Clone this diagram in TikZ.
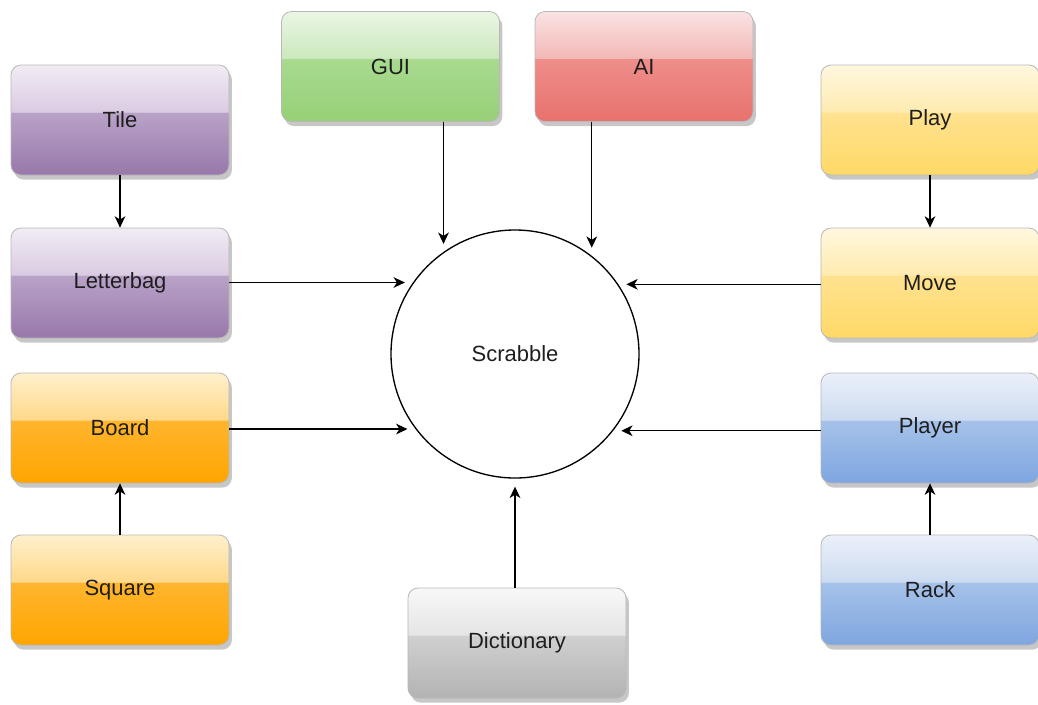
\documentclass[tikz,border=0pt]{standalone}
\usepackage{fontspec}
\setmainfont{Liberation Sans}
\usetikzlibrary{arrows.meta,shadows}
% colour sets: top, gloss edge, lower top, bottom
\definecolor{puA}{HTML}{F1ECF4}\definecolor{puB}{HTML}{DACBE2}\definecolor{puC}{HTML}{B9A2C8}\definecolor{puD}{HTML}{9878AA}
\definecolor{grA}{HTML}{EBF6E5}\definecolor{grB}{HTML}{CBE8BC}\definecolor{grC}{HTML}{A8DA8F}\definecolor{grD}{HTML}{97D077}
\definecolor{reA}{HTML}{FAE3E3}\definecolor{reB}{HTML}{F2B8B6}\definecolor{reC}{HTML}{EE8E8A}\definecolor{reD}{HTML}{E8716D}
\definecolor{yeA}{HTML}{FFF7DF}\definecolor{yeB}{HTML}{FFEBB0}\definecolor{yeC}{HTML}{FFE290}\definecolor{yeD}{HTML}{FFD966}
\definecolor{orA}{HTML}{FFF0CC}\definecolor{orB}{HTML}{FFD88A}\definecolor{orC}{HTML}{FFB52E}\definecolor{orD}{HTML}{FFA500}
\definecolor{blA}{HTML}{EBF0F9}\definecolor{blB}{HTML}{CCDBF1}\definecolor{blC}{HTML}{A6C2E9}\definecolor{blD}{HTML}{7EA6E0}
\definecolor{gyA}{HTML}{F8F8F8}\definecolor{gyB}{HTML}{E5E5E5}\definecolor{gyC}{HTML}{D0D0D0}\definecolor{gyD}{HTML}{B3B3B3}
\definecolor{edge}{HTML}{B8B8B8}
\definecolor{txt}{HTML}{1E1E1E}
% glossy vertical shadings: 25bp = bottom of shape, 75bp = top of shape
\newcommand\makegloss[1]{%
  \pgfdeclareverticalshading{gloss#1}{100bp}{%
    color(0bp)=(#1D); color(25bp)=(#1D); color(53.5bp)=(#1C);
    color(53.7bp)=(#1B); color(75bp)=(#1A); color(100bp)=(#1A)}}
\makegloss{pu}\makegloss{gr}\makegloss{re}\makegloss{ye}\makegloss{or}\makegloss{bl}\makegloss{gy}
\tikzset{
  glossbox/.style={
    rounded corners=7.5pt, minimum width=163.5pt, minimum height=82.5pt,
    draw=edge, line width=0.6pt, inner sep=0pt,
    shading=gloss#1,
    font=\fontsize{16.5}{18}\selectfont, text=txt,
    drop shadow={shadow xshift=2.2pt, shadow yshift=-3.5pt, fill=black!22, opacity=1}
  },
  purplebox/.style={glossbox=pu},
  greenbox/.style={glossbox=gr},
  redbox/.style={glossbox=re},
  yellowbox/.style={glossbox=ye},
  orangebox/.style={glossbox=or},
  bluebox/.style={glossbox=bl},
  graybox/.style={glossbox=gy},
  hub/.style={circle, draw=black, line width=1pt, fill=white, minimum size=186pt, inner sep=0pt,
    font=\fontsize{16.5}{18}\selectfont, text=txt},
  arr/.style={-{Stealth[length=8.5pt,width=8pt,inset=2.5pt]}, line width=1pt, draw=black},
  arrc/.style={arr, shorten >=6pt}
}
\begin{document}
\begin{tikzpicture}[x=0.75pt,y=0.75pt]
\useasboundingbox (0,-704) rectangle (1038,0);
\node[hub] (scr) at (515,-354) {Scrabble};
\node[purplebox] (tile) at (120,-120) {Tile};
\node[purplebox] (letterbag) at (120,-283) {Letterbag};
\node[orangebox] (board) at (120,-428) {Board};
\node[orangebox] (square) at (120,-590) {Square};
\node[greenbox] (gui) at (390.5,-66.5) {GUI};
\node[redbox] (ai) at (644,-66.5) {AI};
\node[yellowbox] (play) at (930,-120) {Play};
\node[yellowbox] (move) at (930,-283) {Move};
\node[bluebox] (player) at (930,-428) {Player};
\node[bluebox] (rack) at (930,-590) {Rack};
\node[graybox] (dict) at (517,-643) {Dictionary};
% connectors
\draw[arr] (tile) -- (letterbag);
\draw[arr] (square) -- (board);
\draw[arr] (play) -- (move);
\draw[arr] (rack) -- (player);
\draw[arrc] (gui.south -| scr.125.5) -- (scr.125.5);
\draw[arrc] (ai.south -| scr.52.8) -- (scr.52.8);
\draw[arrc] (letterbag.east |- scr.145.1) -- (scr.145.1);
\draw[arrc] (board.east |- scr.217.2) -- (scr.217.2);
\draw[arrc] (move.west |- scr.34.9) -- (scr.34.9);
\draw[arrc] (player.west |- scr.322.8) -- (scr.322.8);
\draw[arrc] (dict.north -| scr.270.9) -- (scr.270.9);
\end{tikzpicture}
\end{document}
